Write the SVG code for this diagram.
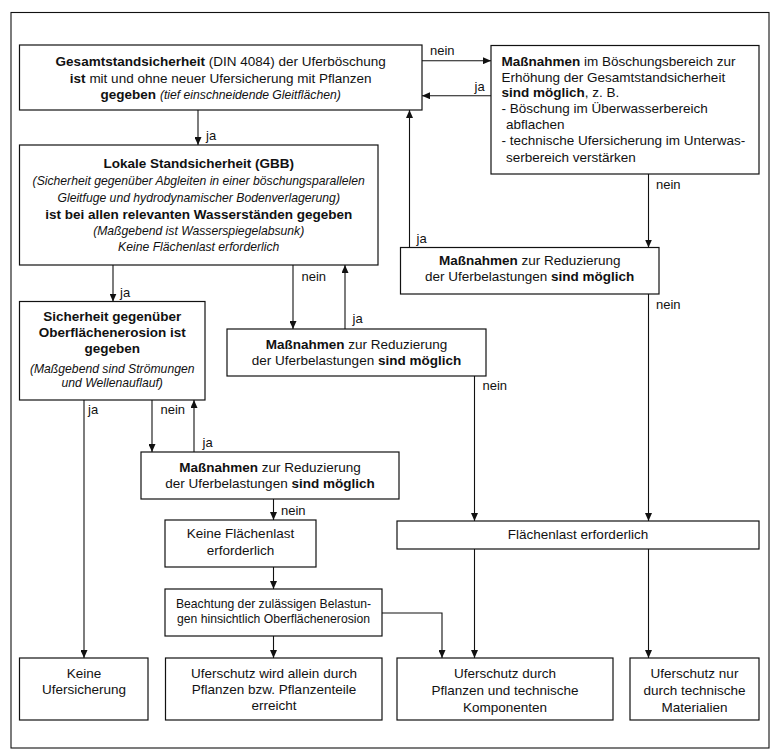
<svg xmlns="http://www.w3.org/2000/svg" width="776" height="755" viewBox="0 0 776 755">
<defs>
<style>
text{font-family:"Liberation Sans",Arial,sans-serif;font-size:13.5px;fill:#111}
.c{text-anchor:middle}
.b{font-weight:bold}
.i{font-style:italic;font-size:12.2px}
.s{font-size:12.2px}
.lbl{font-size:13px}
rect.n{fill:#fff;stroke:#111;stroke-width:1.2}
#connectors line,#connectors polyline{stroke:#111;stroke-width:1.1;fill:none}
.a{marker-end:url(#ah)}
</style>
<marker id="ah" markerUnits="userSpaceOnUse" markerWidth="8" markerHeight="7" refX="8" refY="3.5" orient="auto">
<path d="M0,0 L8,3.5 L0,7 z" fill="#111"/>
</marker>
</defs>
<rect x="0" y="0" width="776" height="755" fill="#fff"/>
<rect x="11" y="12.5" width="758" height="735.5" fill="none" stroke="#111" stroke-width="1.1"/>

<g id="connectors">
<line class="a" x1="422" y1="60.7" x2="491" y2="60.7"/>
<line class="a" x1="491" y1="95.7" x2="422" y2="95.7"/>
<line class="a" x1="198" y1="110" x2="198" y2="145"/>
<line class="a" x1="648.5" y1="174" x2="648.5" y2="247.5"/>
<line class="a" x1="409.5" y1="247.5" x2="409.5" y2="110"/>
<line class="a" x1="293" y1="265" x2="293" y2="329"/>
<line class="a" x1="345" y1="329" x2="345" y2="265"/>
<line class="a" x1="113" y1="265" x2="113" y2="301.5"/>
<line class="a" x1="84" y1="400" x2="84" y2="658"/>
<line class="a" x1="152" y1="400" x2="152" y2="452"/>
<line class="a" x1="194" y1="452" x2="194" y2="400"/>
<line class="a" x1="273.5" y1="499" x2="273.5" y2="520"/>
<line class="a" x1="273.5" y1="567" x2="273.5" y2="589"/>
<line class="a" x1="273.5" y1="636" x2="273.5" y2="658"/>
<polyline class="a" points="382,613 442,613 442,658"/>
<line class="a" x1="474.5" y1="376" x2="474.5" y2="521"/>
<line class="a" x1="648.5" y1="294" x2="648.5" y2="521"/>
<line class="a" x1="474.5" y1="549" x2="474.5" y2="658"/>
<line class="a" x1="648.5" y1="549" x2="648.5" y2="658"/>
<g id="labels">
<text class="lbl" x="430" y="55">nein</text>
<text class="lbl" x="474.5" y="91">ja</text>
<text class="lbl" x="206" y="139.5">ja</text>
<text class="lbl" x="656" y="188.5">nein</text>
<text class="lbl" x="416.5" y="242.5">ja</text>
<text class="lbl" x="301.5" y="280.5">nein</text>
<text class="lbl" x="352.5" y="322.5">ja</text>
<text class="lbl" x="120" y="297">ja</text>
<text class="lbl" x="88" y="414">ja</text>
<text class="lbl" x="160.5" y="414">nein</text>
<text class="lbl" x="202.5" y="446.5">ja</text>
<text class="lbl" x="281" y="515">nein</text>
<text class="lbl" x="482.5" y="390">nein</text>
<text class="lbl" x="656" y="308.5">nein</text>
</g>
</g>

<g id="n1">
<rect class="n" x="19.5" y="45" width="402.5" height="65"/>
<text class="c" x="220.7" y="66"><tspan class="b">Gesamtstandsicherheit</tspan> (DIN 4084) der Uferböschung</text>
<text class="c" x="220.7" y="82.5"><tspan class="b">ist</tspan> mit und ohne neuer Ufersicherung mit Pflanzen</text>
<text class="c" x="220.7" y="99"><tspan class="b">gegeben</tspan> <tspan class="i">(tief einschneidende Gleitflächen)</tspan></text>
</g>

<g id="n2">
<rect class="n" x="491" y="45.5" width="268" height="128.5"/>
<text x="501.5" y="65.5"><tspan class="b">Maßnahmen</tspan> im Böschungsbereich zur</text>
<text x="501.5" y="81.7">Erhöhung der Gesamtstandsicherheit</text>
<text x="501.5" y="97.2"><tspan class="b">sind möglich</tspan>, z. B.</text>
<text x="501.5" y="113.3">- Böschung im Überwasserbereich</text>
<text x="506" y="128.7">abflachen</text>
<text x="501.5" y="145">- technische Ufersicherung im Unterwas-</text>
<text x="506" y="161.5">serbereich verstärken</text>
</g>

<g id="n3">
<rect class="n" x="19.5" y="145" width="358.5" height="120"/>
<text class="c b" x="198.7" y="168.3">Lokale Standsicherheit (GBB)</text>
<text class="c i" x="198.7" y="185">(Sicherheit gegenüber Abgleiten in einer böschungsparallelen</text>
<text class="c i" x="198.7" y="201.7">Gleitfuge und hydrodynamischer Bodenverlagerung)</text>
<text class="c b" x="198.7" y="219">ist bei allen relevanten Wasserständen gegeben</text>
<text class="c i" x="198.7" y="234.5">(Maßgebend ist Wasserspiegelabsunk)</text>
<text class="c i" x="198.7" y="251">Keine Flächenlast erforderlich</text>
</g>

<g id="n4">
<rect class="n" x="400.5" y="247.5" width="258.5" height="46.5"/>
<text class="c" x="529.7" y="264.5"><tspan class="b">Maßnahmen</tspan> zur Reduzierung</text>
<text class="c" x="529.7" y="280.7">der Uferbelastungen <tspan class="b">sind möglich</tspan></text>
</g>

<g id="n5">
<rect class="n" x="227" y="329" width="259" height="47"/>
<text class="c" x="356.5" y="349.3"><tspan class="b">Maßnahmen</tspan> zur Reduzierung</text>
<text class="c" x="356.5" y="364.5">der Uferbelastungen <tspan class="b">sind möglich</tspan></text>
</g>

<g id="n6">
<rect class="n" x="19.5" y="301.5" width="185.5" height="98.5"/>
<text class="c b" x="112.2" y="320.7">Sicherheit gegenüber</text>
<text class="c b" x="112.2" y="337">Oberflächenerosion ist</text>
<text class="c b" x="112.2" y="353.3">gegeben</text>
<text class="c i" x="112.2" y="372.5">(Maßgebend sind Strömungen</text>
<text class="c i" x="112.2" y="387">und Wellenauflauf)</text>
</g>

<g id="n7">
<rect class="n" x="141" y="452" width="258" height="47"/>
<text class="c" x="270" y="471.7"><tspan class="b">Maßnahmen</tspan> zur Reduzierung</text>
<text class="c" x="270" y="487.5">der Uferbelastungen <tspan class="b">sind möglich</tspan></text>
</g>

<g id="n8">
<rect class="n" x="165" y="520" width="151" height="47"/>
<text class="c" x="240.5" y="538">Keine Flächenlast</text>
<text class="c" x="240.5" y="555">erforderlich</text>
</g>

<g id="n9">
<rect class="n" x="165" y="589" width="217" height="47"/>
<text class="c s" x="273.5" y="608.3">Beachtung der zulässigen Belastun-</text>
<text class="c s" x="273.5" y="622.5">gen hinsichtlich Oberflächenerosion</text>
</g>

<g id="n10">
<rect class="n" x="397" y="521" width="362" height="28"/>
<text class="c" x="578" y="538.5">Flächenlast erforderlich</text>
</g>

<g id="n11">
<rect class="n" x="19.5" y="658" width="128.5" height="62"/>
<text class="c" x="84" y="677.5">Keine</text>
<text class="c" x="84" y="693.5">Ufersicherung</text>
</g>

<g id="n12">
<rect class="n" x="165.5" y="658" width="216.5" height="62"/>
<text class="c" x="274" y="677.5">Uferschutz wird allein durch</text>
<text class="c" x="274" y="693.5">Pflanzen bzw. Pflanzenteile</text>
<text class="c" x="274" y="710">erreicht</text>
</g>

<g id="n13">
<rect class="n" x="397" y="658" width="216" height="62"/>
<text class="c" x="505" y="678.3">Uferschutz durch</text>
<text class="c" x="505" y="695">Pflanzen und technische</text>
<text class="c" x="505" y="711.7">Komponenten</text>
</g>

<g id="n14">
<rect class="n" x="630" y="658" width="129" height="62"/>
<text class="c" x="694.5" y="678.3">Uferschutz nur</text>
<text class="c" x="694.5" y="695">durch technische</text>
<text class="c" x="694.5" y="711.7">Materialien</text>
</g>
</svg>
